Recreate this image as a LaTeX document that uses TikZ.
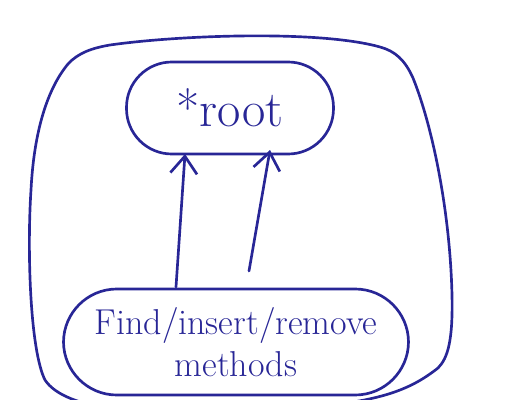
\documentclass[tikz,border=0pt]{standalone}
\usetikzlibrary{arrows.meta}
\definecolor{ink}{RGB}{40,38,150}

\begin{document}
\begin{tikzpicture}[x=0.75pt,y=0.75pt,yscale=-1,xscale=1,
  pen/.style={draw=ink, line width=2pt, line join=round, line cap=round},
  blob/.style={pen, rounded corners=34pt, inner sep=0pt, text=ink},
  uses/.style={pen, -{Straight Barb[length=13pt,width=20pt,line width=2pt]}}]
\useasboundingbox (0,0) rectangle (522,400);

%Shape: outer boundary
\draw [pen] (110,45) .. controls (180,35) and (320,30) .. (380,47)
  .. controls (395,51) and (405,60) .. (413,78)
  .. controls (432,125) and (450,210) .. (452,295)
  .. controls (453,340) and (448,358) .. (438,368)
  .. controls (410,390) and (380,402) .. (300,408)
  -- (120,410)
  .. controls (80,405) and (55,395) .. (45,380)
  .. controls (30,350) and (27,250) .. (31,190)
  .. controls (34,130) and (48,88) .. (68,64)
  .. controls (78,53) and (92,48) .. (110,45) -- cycle ;

% Text Node
\node [blob, minimum width=207*0.75pt, minimum height=92*0.75pt, font=\fontsize{38}{44}\selectfont]
  (root) at (230,108) {*root};
% Text Node
\node [blob, rounded corners=40pt, minimum width=345*0.75pt, minimum height=106*0.75pt,
  align=center, font=\fontsize{27}{32}\selectfont]
  (methods) at (236,342) {Find/insert/remove\\methods};

%Straight Lines
\coordinate (fromA) at (176,287);
\coordinate (toA) at (185,154);
\coordinate (fromB) at (249,271);
\coordinate (toB) at (270,150);
\draw [uses] (fromA) -- (toA);
\draw [uses] (fromB) -- (toB);

\end{tikzpicture}
\end{document}
